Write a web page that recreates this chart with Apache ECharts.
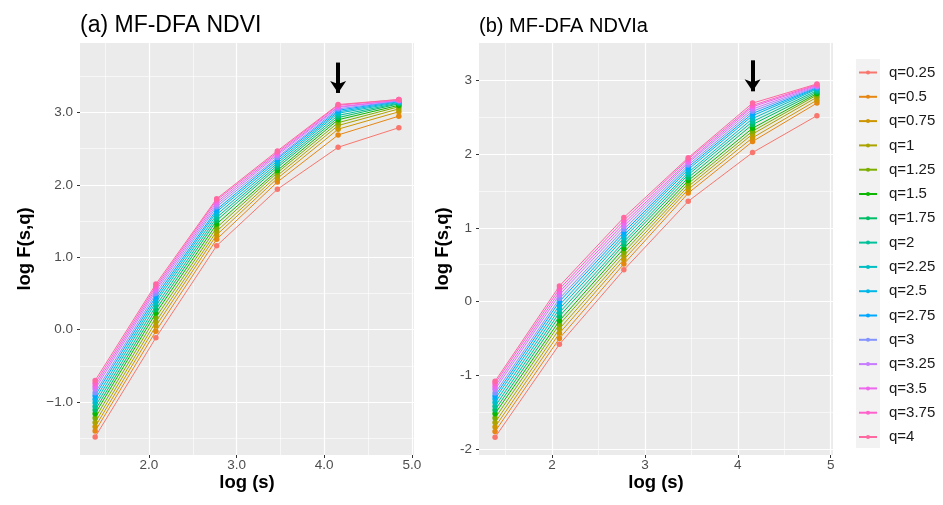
<!DOCTYPE html>
<html>
<head>
<meta charset="utf-8">
<script src="https://cdn.jsdelivr.net/npm/echarts@6/dist/echarts.min.js"></script>
<style>html,body{margin:0;padding:0;background:#fff}#c{width:943px;height:505px}</style>
</head>
<body>
<div id="c"></div>
<script>
// ---- data ----
const xLogS = [1.386, 2.079, 2.773, 3.466, 4.159, 4.852];
const qLabels = ['q=0.25','q=0.5','q=0.75','q=1','q=1.25','q=1.5','q=1.75','q=2','q=2.25','q=2.5','q=2.75','q=3','q=3.25','q=3.5','q=3.75','q=4'];
const qColors = ['#F8766D','#E68613','#CD9600','#ABA300','#7CAE00','#0CB702','#00BE67','#00C19A','#00BFC4','#00B8E7','#00A9FF','#8494FF','#C77CFF','#ED68ED','#FF61CC','#FF68A1'];

// (a) NDVI: log F(s,q) for each scale, values ordered by q
const ndviS1 = [-1.48,-1.40,-1.34,-1.28,-1.22,-1.16,-1.11,-1.06,-1.01,-0.96,-0.91,-0.87,-0.82,-0.78,-0.74,-0.70];
const ndviS2 = [-0.11,-0.02,0.05,0.11,0.17,0.23,0.28,0.33,0.38,0.42,0.46,0.50,0.54,0.57,0.60,0.63];
const ndviS3 = [1.16,1.25,1.31,1.36,1.41,1.46,1.51,1.55,1.59,1.63,1.66,1.70,1.73,1.76,1.79,1.81];
const ndviS4 = [1.94,2.04,2.09,2.13,2.17,2.20,2.24,2.27,2.30,2.33,2.36,2.38,2.41,2.43,2.45,2.47];
const ndviS5 = [2.52,2.69,2.77,2.82,2.86,2.90,2.93,2.96,2.99,3.01,3.03,3.05,3.07,3.08,3.10,3.11];
const ndviS6 = [2.79,2.95,3.01,3.05,3.08,3.10,3.12,3.13,3.14,3.15,3.16,3.16,3.17,3.17,3.18,3.18];

// (b) NDVIa
const ndviaS1 = [-1.84,-1.76,-1.70,-1.64,-1.58,-1.52,-1.47,-1.42,-1.37,-1.32,-1.28,-1.24,-1.19,-1.15,-1.11,-1.08];
const ndviaS2 = [-0.58,-0.50,-0.43,-0.37,-0.31,-0.26,-0.20,-0.15,-0.10,-0.05,0.00,0.04,0.09,0.13,0.17,0.21];
const ndviaS3 = [0.43,0.51,0.57,0.62,0.67,0.72,0.77,0.81,0.86,0.90,0.94,0.98,1.02,1.06,1.10,1.14];
const ndviaS4 = [1.36,1.47,1.52,1.56,1.60,1.64,1.68,1.72,1.75,1.79,1.82,1.85,1.88,1.90,1.93,1.95];
const ndviaS5 = [2.02,2.17,2.22,2.27,2.31,2.35,2.40,2.44,2.48,2.52,2.55,2.58,2.61,2.64,2.66,2.69];
const ndviaS6 = [2.52,2.69,2.73,2.77,2.80,2.82,2.84,2.86,2.88,2.89,2.90,2.91,2.92,2.93,2.94,2.95];

// arrows: [x, start y, tip y]
const arrowNdvi = [4.159, 3.69, 3.27];
const arrowNdvia = [4.159, 3.27, 2.85];

// ticks
const xTicks = [2, 3, 4, 5];
const xMinor = [1.5, 2.5, 3.5, 4.5];
const yTicksA = [-1, 0, 1, 2, 3];
const yMinorA = [-1.5, -0.5, 0.5, 1.5, 2.5, 3.5];
const yTicksB = [-2, -1, 0, 1, 2, 3];
const yMinorB = [-1.5, -0.5, 0.5, 1.5, 2.5];
const titles = ['(a) MF-DFA NDVI', '(b) MF-DFA NDVIa'];

// ---- chart ----
const FONT = 'Liberation Sans, Arial, sans-serif';
const panels = [
  {cols: [ndviS1, ndviS2, ndviS3, ndviS4, ndviS5, ndviS6], arrow: arrowNdvi},
  {cols: [ndviaS1, ndviaS2, ndviaS3, ndviaS4, ndviaS5, ndviaS6], arrow: arrowNdvia}
];

const series = [];
panels.forEach((p, pi) => {
  qLabels.forEach((name, qi) => {
    series.push({
      type: 'line', name: name,
      xAxisIndex: pi * 2, yAxisIndex: pi * 2,
      data: xLogS.map((x, j) => [x, p.cols[j][qi]]),
      symbol: 'circle', symbolSize: 5.5,
      itemStyle: {color: qColors[qi]},
      lineStyle: {color: qColors[qi], width: 1},
      emphasis: {disabled: true},
      z: 2 + qi * 0.01
    });
  });
  series.push({
    type: 'line', name: 'arrow' + pi,
    xAxisIndex: pi * 2, yAxisIndex: pi * 2,
    data: [], silent: true,
    markLine: {
      silent: true, animation: false,
      symbol: ['none', 'arrow'], symbolSize: 12,
      label: {show: false},
      lineStyle: {color: '#000', width: 4, type: 'solid'},
      emphasis: {disabled: true},
      data: [[{coord: [p.arrow[0], p.arrow[1]]}, {coord: [p.arrow[0], p.arrow[2]]}]]
    }
  });
});

function xAxes(gi, fmt) {
  return [{
    type: 'value', gridIndex: gi, min: 1.213, max: 5.025,
    name: 'log (s)', nameLocation: 'middle', nameGap: 18, nameMoveOverlap: false,
    nameTextStyle: {fontFamily: FONT, fontSize: 18.5, fontWeight: 'bold', color: '#000'},
    axisLine: {show: false, onZero: false},
    axisTick: {show: true, customValues: xTicks, length: 3, lineStyle: {color: '#333', width: 1}},
    axisLabel: {customValues: xTicks, margin: 3.5, fontFamily: FONT, fontSize: 13.5, color: '#4D4D4D', formatter: fmt},
    splitLine: {show: true, customValues: xTicks, lineStyle: {color: '#fff', width: 1.2}}
  }, {
    type: 'value', gridIndex: gi, min: 1.213, max: 5.025,
    axisLine: {show: false, onZero: false}, axisTick: {show: false, customValues: xMinor}, axisLabel: {show: false, customValues: xMinor},
    splitLine: {show: true, customValues: xMinor, lineStyle: {color: '#fff', width: 0.6}}
  }];
}
function yAxes(gi, min, max, ticks, minor, fmt, gap) {
  return [{
    type: 'value', gridIndex: gi, min: min, max: max,
    name: 'log F(s,q)', nameLocation: 'middle', nameGap: gap, nameMoveOverlap: false,
    nameTextStyle: {fontFamily: FONT, fontSize: 18.5, fontWeight: 'bold', color: '#000'},
    axisLine: {show: false, onZero: false},
    axisTick: {show: true, customValues: ticks, length: 3, lineStyle: {color: '#333', width: 1}},
    axisLabel: {customValues: ticks, margin: 7, fontFamily: FONT, fontSize: 13.5, color: '#4D4D4D', formatter: fmt},
    splitLine: {show: true, customValues: ticks, lineStyle: {color: '#fff', width: 1.2}}
  }, {
    type: 'value', gridIndex: gi, min: min, max: max,
    axisLine: {show: false, onZero: false}, axisTick: {show: false, customValues: minor}, axisLabel: {show: false, customValues: minor},
    splitLine: {show: true, customValues: minor, lineStyle: {color: '#fff', width: 0.6}}
  }];
}

const fmtA = v => (v < 0 ? '\u2212' + Math.abs(v).toFixed(1) : v.toFixed(1));
const fmtB = v => String(v);

const option = {
  animation: false,
  backgroundColor: '#fff',
  title: [
    {text: titles[0], left: 80, top: 14, padding: 0, textStyle: {fontFamily: FONT, fontSize: 23, fontWeight: 'normal', color: '#000'}},
    {text: titles[1], left: 479, top: 16, padding: 0, textStyle: {fontFamily: FONT, fontSize: 20, fontWeight: 'normal', color: '#000'}}
  ],
  grid: [
    {left: 80, top: 43, width: 334, height: 412, show: true, backgroundColor: '#EBEBEB', borderWidth: 0},
    {left: 479, top: 43, width: 354, height: 412, show: true, backgroundColor: '#EBEBEB', borderWidth: 0}
  ],
  xAxis: [].concat(xAxes(0, fmtA), xAxes(1, fmtB)),
  yAxis: [].concat(
    yAxes(0, -1.73, 3.96, yTicksA, yMinorA, fmtA, 46),
    yAxes(1, -2.08, 3.505, yTicksB, yMinorB, fmtB, 27)
  ),
  graphic: [{type: 'rect', shape: {x: 856, y: 59, width: 24, height: 389}, style: {fill: '#F2F2F2'}, z: -10, silent: true}],
  legend: {
    data: qLabels, orient: 'vertical', left: 853, top: 60,
    itemWidth: 18, itemHeight: 5, itemGap: 9.3,
    selectedMode: false,
    textStyle: {fontFamily: FONT, fontSize: 15, color: '#1A1A1A', padding: [0, 0, 0, 7]}
  },
  series: series
};
const chart = echarts.init(document.getElementById('c'), null, {renderer: 'canvas'});
chart.setOption(option);
</script>
</body>
</html>
